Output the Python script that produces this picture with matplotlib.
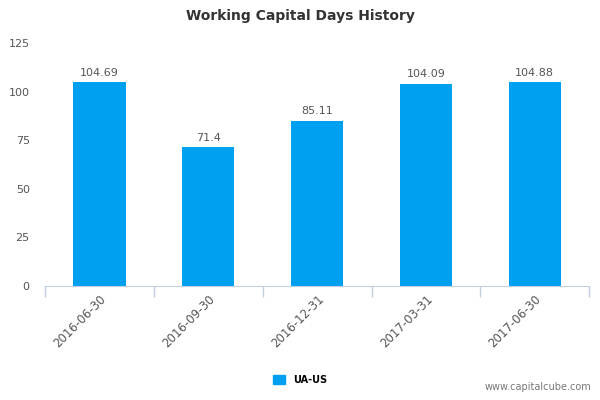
import numpy as np
import matplotlib
matplotlib.use("Agg")
import matplotlib.pyplot as plt
from matplotlib.patches import Patch

# dados
datas = ["2016-06-30", "2016-09-30", "2016-12-31", "2017-03-31", "2017-06-30"]
valores = [104.69, 71.4, 85.11, 104.09, 104.88]
rotulos = ["104.69", "71.4", "85.11", "104.09", "104.88"]
serie = "UA-US"

COR_BARRA = "#00A0F0"
COR_TEXTO = "#555555"
COR_EIXO = "#C0D0E0"

fig = plt.figure(figsize=(6, 4), dpi=100)
ax = fig.add_axes([0.075, 0.285, 0.907, 0.6075])

x = np.arange(len(datas))
ax.bar(x, valores, width=0.48, color=COR_BARRA, zorder=2)
for xi, v, r in zip(x, valores, rotulos):
    ax.annotate(r, (xi, v), textcoords="offset points", xytext=(0, 3),
                ha="center", va="bottom", fontsize=8, color=COR_TEXTO)

ax.set_xlim(-0.5, len(datas) - 0.5)
ax.set_ylim(0, 125)
ax.set_yticks([0, 25, 50, 75, 100, 125])
ax.tick_params(axis="y", length=0, labelsize=8, labelcolor=COR_TEXTO, pad=11)

ax.set_xticks(x)
ax.set_xticklabels(datas, rotation=45, ha="right", rotation_mode="anchor")
ax.set_xticks(np.arange(-0.5, len(datas)), minor=True)
ax.tick_params(axis="x", which="major", length=0, labelsize=8.5,
               labelcolor=COR_TEXTO, pad=5)
ax.tick_params(axis="x", which="minor", length=8, color=COR_EIXO, width=1)

for lado in ["top", "right", "left"]:
    ax.spines[lado].set_visible(False)
ax.spines["bottom"].set_color(COR_EIXO)

fig.text(0.5, 0.96, "Working Capital Days History", ha="center", va="center",
         fontsize=10, fontweight="bold", color="#333333")

fig.legend(handles=[Patch(color=COR_BARRA, label=serie)], loc="center",
           bbox_to_anchor=(0.5, 0.05), frameon=False,
           handlelength=1.3, handleheight=1.0, prop={"weight": "bold", "size": 7})

fig.text(0.985, 0.02, "www.capitalcube.com", ha="right", va="bottom",
         fontsize=7, color="#777777")

fig.savefig("out.png", dpi=100)
